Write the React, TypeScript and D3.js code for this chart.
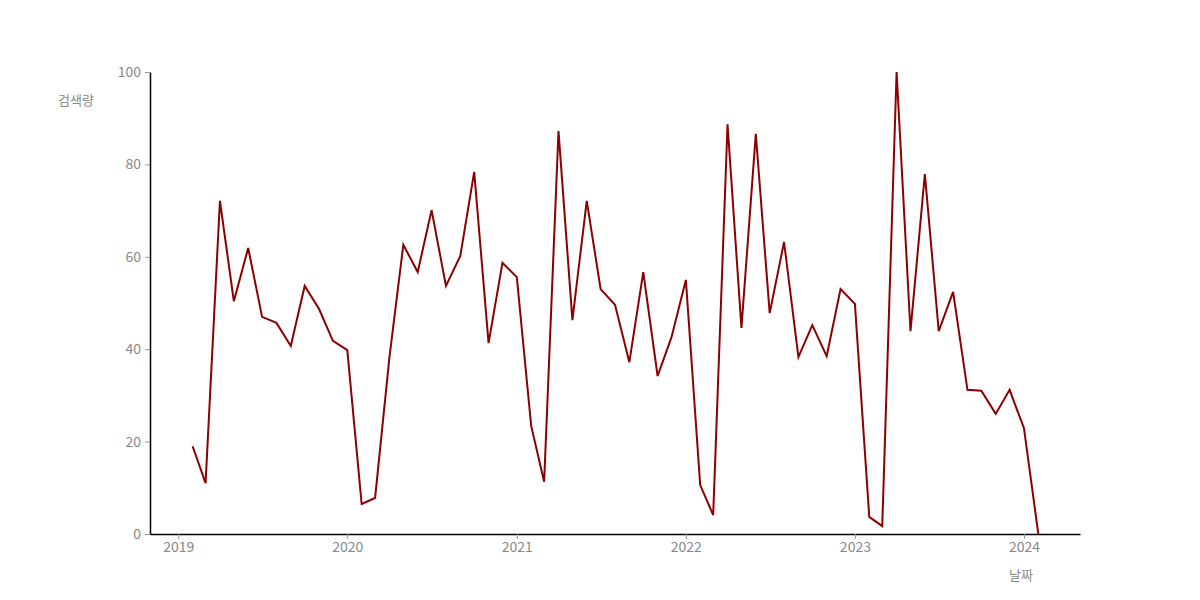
import React, { useEffect, useRef } from "react";
import * as d3 from "d3";

const months: string[] = [
  "2019-02","2019-03","2019-04","2019-05","2019-06","2019-07","2019-08","2019-09","2019-10","2019-11","2019-12",
  "2020-01","2020-02","2020-03","2020-04","2020-05","2020-06","2020-07","2020-08","2020-09","2020-10","2020-11","2020-12",
  "2021-01","2021-02","2021-03","2021-04","2021-05","2021-06","2021-07","2021-08","2021-09","2021-10","2021-11","2021-12",
  "2022-01","2022-02","2022-03","2022-04","2022-05","2022-06","2022-07","2022-08","2022-09","2022-10","2022-11","2022-12",
  "2023-01","2023-02","2023-03","2023-04","2023-05","2023-06","2023-07","2023-08","2023-09","2023-10","2023-11","2023-12",
  "2024-01","2024-02",
];

const searchVolume: number[] = [
  19.0, 11.0, 72.1, 50.4, 61.9, 47.0, 45.7, 40.7, 53.7, 48.7, 41.8,
  39.8, 6.5, 7.8, 38.3, 62.6, 56.7, 70.1, 53.7, 60.2, 78.4, 41.3, 58.7,
  55.6, 23.4, 11.3, 87.2, 46.3, 72.1, 53.0, 49.6, 37.2, 56.7, 34.2, 42.6,
  55.0, 10.6, 4.1, 88.7, 44.6, 86.6, 47.8, 63.2, 38.3, 45.2, 38.5, 53.0,
  49.8, 3.7, 1.7, 100, 43.9, 77.9, 43.9, 52.4, 31.2, 31.0, 26.0, 31.2,
  22.9, 0,
];

const yTicks: number[] = [0, 20, 40, 60, 80, 100];
const xTickYears: number[] = [2019, 2020, 2021, 2022, 2023, 2024];
const yLabel = "검색량";
const xLabel = "날짜";

export default function App() {
  const ref = useRef<SVGSVGElement>(null);

  useEffect(() => {
    const svg = d3.select(ref.current);
    svg.selectAll("*").remove();

    const left = 150, right = 1080, top = 72, bottom = 534;
    const parse = d3.timeParse("%Y-%m");
    const data = months.map((m, i) => ({ date: parse(m) as Date, value: searchVolume[i] }));

    const x = d3.scaleTime()
      .domain([new Date(2018, 10, 1), new Date(2024, 4, 1)])
      .range([left, right]);
    const y = d3.scaleLinear().domain([0, 100]).range([bottom, top]);

    const tickFont = "'Noto Sans CJK KR', 'Noto Sans', sans-serif";

    const xAxis = svg.append("g")
      .attr("transform", `translate(0,${bottom})`)
      .call(
        d3.axisBottom(x)
          .tickValues(xTickYears.map((yr) => new Date(yr, 0, 1)))
          .tickFormat((d) => d3.timeFormat("%Y")(d as Date))
          .tickSizeInner(5)
          .tickSizeOuter(0)
          .tickPadding(3)
      );
    xAxis.select(".domain").attr("stroke", "#000").attr("stroke-width", 1.5);
    xAxis.selectAll(".tick line").attr("stroke", "#999");
    xAxis.selectAll(".tick text")
      .attr("fill", "#888")
      .style("font-family", tickFont)
      .style("font-size", "14px");

    const yAxis = svg.append("g")
      .attr("transform", `translate(${left},0)`)
      .call(
        d3.axisLeft(y)
          .tickValues(yTicks)
          .tickSizeInner(5)
          .tickSizeOuter(0)
          .tickPadding(4)
      );
    yAxis.select(".domain").attr("stroke", "#000").attr("stroke-width", 1.5);
    yAxis.selectAll(".tick line").attr("stroke", "#999");
    yAxis.selectAll(".tick text")
      .attr("fill", "#888")
      .style("font-family", tickFont)
      .style("font-size", "14px");

    const line = d3.line<{ date: Date; value: number }>()
      .x((d) => x(d.date))
      .y((d) => y(d.value));

    svg.append("path")
      .datum(data)
      .attr("fill", "none")
      .attr("stroke", "#8b0000")
      .attr("stroke-width", 2)
      .attr("stroke-linejoin", "miter")
      .attr("d", line);

    svg.append("text")
      .attr("x", 76)
      .attr("y", 105)
      .attr("text-anchor", "middle")
      .attr("fill", "#888")
      .style("font-family", "'Noto Sans CJK KR', sans-serif")
      .style("font-size", "13px")
      .text(yLabel);

    svg.append("text")
      .attr("x", 1021)
      .attr("y", 580)
      .attr("text-anchor", "middle")
      .attr("fill", "#888")
      .style("font-family", "'Noto Sans CJK KR', sans-serif")
      .style("font-size", "13px")
      .text(xLabel);
  }, []);

  return (
    <svg
      ref={ref}
      width={1200}
      height={600}
      style={{ position: "absolute", left: 0, top: 0, background: "#fff" }}
    />
  );
}
